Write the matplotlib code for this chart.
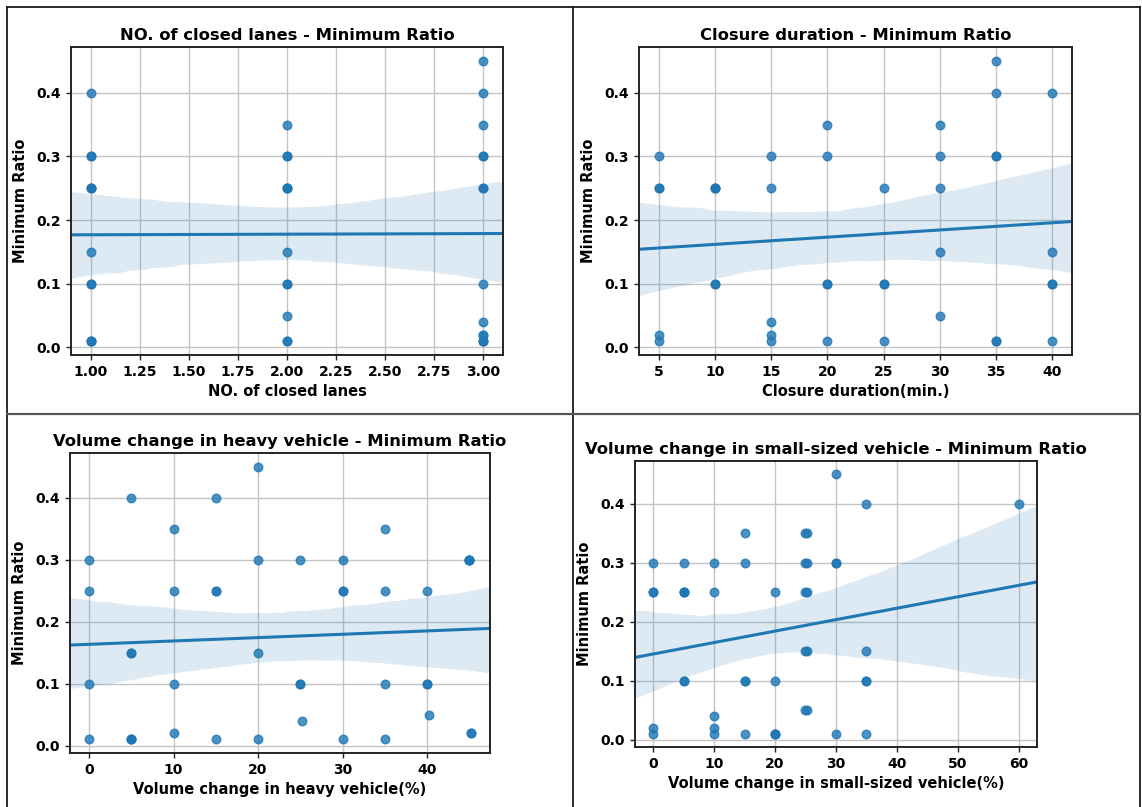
import matplotlib
matplotlib.use("Agg")
import matplotlib.pyplot as plt
from matplotlib.lines import Line2D
import seaborn as sns

plt.rcParams['font.family'] = ['DejaVu Sans']
plt.rcParams['font.weight'] = 'bold'
plt.rcParams['axes.titleweight'] = 'bold'
plt.rcParams['axes.labelweight'] = 'bold'

ratio_label = "Minimum Ratio"

# NO. of closed lanes
lanes_x = [1, 1, 1, 1, 1, 1, 1, 1, 1, 1, 1, 1,
           2, 2, 2, 2, 2, 2, 2, 2, 2, 2, 2, 2,
           3, 3, 3, 3, 3, 3, 3, 3, 3, 3, 3, 3, 3, 3]
lanes_y = [0.4, 0.3, 0.3, 0.25, 0.25, 0.25, 0.15, 0.1, 0.1, 0.01, 0.01, 0.01,
           0.35, 0.3, 0.3, 0.25, 0.25, 0.25, 0.15, 0.1, 0.1, 0.05, 0.01, 0.01,
           0.45, 0.4, 0.35, 0.3, 0.3, 0.25, 0.25, 0.1, 0.04, 0.02, 0.02,
           0.01, 0.01, 0.01]

# Closure duration (min.)
dur_x = [5, 5, 5, 5, 5,
         10, 10, 10, 10, 10,
         15, 15, 15, 15, 15,
         20, 20, 20, 20, 20,
         25, 25, 25, 25,
         30, 30, 30, 30, 30,
         35, 35, 35, 35, 35, 35,
         40, 40, 40, 40, 40]
dur_y = [0.3, 0.25, 0.25, 0.02, 0.01,
         0.25, 0.25, 0.25, 0.1, 0.1,
         0.3, 0.25, 0.04, 0.02, 0.01,
         0.35, 0.3, 0.1, 0.1, 0.01,
         0.25, 0.1, 0.1, 0.01,
         0.35, 0.3, 0.25, 0.15, 0.05,
         0.45, 0.4, 0.3, 0.3, 0.01, 0.01,
         0.4, 0.15, 0.1, 0.1, 0.01]

# Volume change in heavy vehicle (%)
heavy_x = [0, 0, 0, 0,
           5, 5, 5, 5, 5, 5,
           10, 10, 10, 10,
           15, 15, 15, 15,
           20, 20, 20, 20,
           25, 25, 25, 25.2,
           30, 30, 30, 30,
           35, 35, 35, 35,
           40, 40, 40, 40.2,
           45, 45, 45, 45, 45.2, 45.2]
heavy_y = [0.3, 0.25, 0.1, 0.01,
           0.4, 0.15, 0.15, 0.01, 0.01, 0.01,
           0.35, 0.25, 0.1, 0.02,
           0.4, 0.25, 0.25, 0.01,
           0.45, 0.3, 0.15, 0.01,
           0.3, 0.1, 0.1, 0.04,
           0.3, 0.25, 0.25, 0.01,
           0.35, 0.25, 0.1, 0.01,
           0.25, 0.1, 0.1, 0.05,
           0.3, 0.3, 0.3, 0.3, 0.02, 0.02]

# Volume change in small-sized vehicle (%)
small_x = [0, 0, 0, 0, 0,
           5, 5, 5, 5, 5, 5,
           10, 10, 10, 10, 10,
           15, 15, 15, 15, 15,
           20, 20, 20, 20, 20,
           25, 25.3, 25, 25.3, 25, 25.3, 25, 25.3, 25, 25.3,
           30, 30, 30, 30,
           35, 35, 35, 35, 35,
           60]
small_y = [0.3, 0.25, 0.25, 0.02, 0.01,
           0.3, 0.25, 0.25, 0.25, 0.1, 0.1,
           0.3, 0.25, 0.04, 0.02, 0.01,
           0.35, 0.3, 0.1, 0.1, 0.01,
           0.25, 0.1, 0.01, 0.01, 0.01,
           0.35, 0.35, 0.3, 0.3, 0.25, 0.25, 0.15, 0.15, 0.05, 0.05,
           0.45, 0.3, 0.3, 0.01,
           0.4, 0.15, 0.1, 0.1, 0.01,
           0.4]


def panel(fig, rect, x, y, xlabel, title):
    ax = fig.add_axes(rect)
    span = max(x) - min(x)
    ax.set_xlim(min(x) - 0.05 * span, max(x) + 0.05 * span)
    sns.regplot(x=x, y=y, ax=ax, truncate=False, seed=7,
                scatter_kws={"s": 38},
                line_kws={"lw": 2.2})
    ax.set_axisbelow(True)
    ax.grid(True, color="#c4c4c4", lw=1)
    for s in ax.spines.values():
        s.set_color("#222222")
        s.set_linewidth(1.4)
    ax.tick_params(labelsize=10, length=3.5, width=1, color="#222222")
    ax.set_xlabel(xlabel, fontsize=10.5, labelpad=4)
    ax.set_ylabel(ratio_label, fontsize=10.5, labelpad=6)
    ax.set_title(title, fontsize=11.8, pad=5)
    return ax


fig = plt.figure(figsize=(11.42, 8.07), dpi=100)

panel(fig, [0.0622, 0.5601, 0.3783, 0.3817], lanes_x, lanes_y,
      "NO. of closed lanes", "NO. of closed lanes - Minimum Ratio")
panel(fig, [0.5595, 0.5601, 0.3792, 0.3817], dur_x, dur_y,
      "Closure duration(min.)", "Closure duration - Minimum Ratio")
panel(fig, [0.0613, 0.0669, 0.3678, 0.3717], heavy_x, heavy_y,
      "Volume change in heavy vehicle(%)",
      "Volume change in heavy vehicle - Minimum Ratio")
panel(fig, [0.5560, 0.0743, 0.3520, 0.3544], small_x, small_y,
      "Volume change in small-sized vehicle(%)",
      "Volume change in small-sized vehicle - Minimum Ratio")

# table frame around the four charts
W, H = 1142, 807
frame = [((6.5, 6.5), (7, 807)), ((6.5, 1140), (7, 7)), ((1140, 1140), (7, 807)),
         ((573, 573), (7, 807))]
for xs, ys in frame:
    fig.add_artist(Line2D([v / W for v in xs], [1 - v / H for v in ys],
                          transform=fig.transFigure, color="#1a1a1a", lw=1.3))
fig.add_artist(Line2D([6.5 / W, 1140 / W], [1 - 414 / H, 1 - 414 / H],
                      transform=fig.transFigure, color="#555555", lw=1.6))

fig.savefig("out.png", dpi=100)
plt.close(fig)
